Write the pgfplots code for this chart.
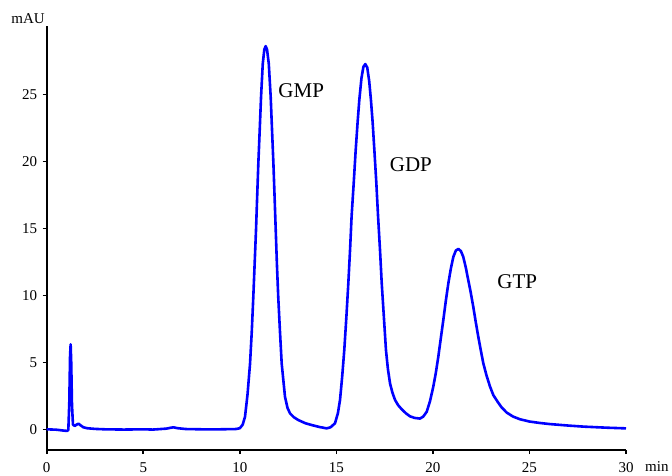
\documentclass[border=0pt]{standalone}
\usepackage{fontspec}
\setmainfont{Liberation Serif}
\usepackage{pgfplots}
\pgfplotsset{compat=1.18}
\definecolor{trace}{RGB}{0,0,255}
\begin{document}
\begin{tikzpicture}[x=1pt,y=1pt]
\path[use as bounding box] (0,0) rectangle (672,475);
\begin{axis}[
  at={(46.7pt,25pt)}, anchor=south west,
  scale only axis, width=579.3pt, height=424pt,
  xmin=0, xmax=30, ymin=-1.545, ymax=30.1,
  axis x line*=bottom, axis y line*=left,
  axis line style={line width=1.6pt, black},
  every tick/.style={line width=1.6pt, black},
  major tick length=4pt, tick align=outside,
  xtick={0,5,...,30}, ytick={0,5,...,25},
  /pgf/number format/assume math mode=true,
  tick label style={font=\fontsize{15}{18}\selectfont},
  xticklabel style={anchor=center, yshift=-14pt},
  yticklabel style={anchor=east, xshift=-2pt},
  clip=false,
]
\addplot[trace, line width=2.6pt, line join=round] coordinates {
(0,0.00) (0.5,-0.03) (0.9,-0.10) (1.05,-0.12) (1.12,-0.05) (1.17,2.0) (1.21,5.5)
(1.24,6.34) (1.27,5.0) (1.31,1.8) (1.36,0.35) (1.45,0.25) (1.55,0.35) (1.65,0.42)
(1.75,0.3) (1.9,0.15) (2.1,0.08) (2.5,0.03) (3.0,0.0) (4.0,-0.02) (5.0,0.0)
(5.5,-0.02) (6.2,0.05) (6.55,0.15) (6.8,0.08) (7.2,0.02) (8.0,0.0) (9.0,0.0)
(9.8,0.02) (10.0,0.08) (10.15,0.35) (10.27,0.94) (10.4,2.6) (10.53,4.9)
(10.62,7.3) (10.70,9.9) (10.77,12.4) (10.84,14.9) (10.90,17.4) (10.96,19.85)
(11.03,22.3) (11.10,24.8) (11.19,27.3) (11.27,28.35) (11.34,28.6) (11.41,28.35)
(11.50,27.3) (11.60,24.8) (11.67,22.3) (11.74,19.85) (11.80,17.4) (11.86,14.9)
(11.92,12.4) (11.99,9.9) (12.08,7.3) (12.17,4.9) (12.34,2.43) (12.47,1.6)
(12.6,1.19) (12.8,0.9) (13.03,0.69) (13.4,0.45) (13.72,0.32) (14.1,0.18)
(14.5,0.07) (14.7,0.15) (14.93,0.45) (15.08,1.2) (15.19,2.19) (15.3,3.9)
(15.41,5.9) (15.52,8.4) (15.62,10.9) (15.71,13.4) (15.79,15.9) (15.90,18.4)
(16.0,20.8) (16.10,22.9) (16.19,24.6) (16.30,26.2) (16.40,27.05) (16.5,27.26)
(16.60,27.0) (16.70,26.0) (16.79,24.6) (16.88,22.9) (16.97,20.8) (17.07,18.4)
(17.16,15.9) (17.26,13.4) (17.35,10.9) (17.46,8.4) (17.57,5.9) (17.67,4.5)
(17.78,3.43) (17.9,2.75) (18.04,2.19) (18.2,1.8) (18.38,1.5) (18.6,1.2)
(18.81,0.97) (19.05,0.85) (19.33,0.80) (19.5,0.95) (19.68,1.31) (19.85,2.1)
(20.02,3.18) (20.15,4.2) (20.28,5.42) (20.41,6.8) (20.54,8.16) (20.67,9.6)
(20.80,10.9) (20.93,12.0) (21.06,12.88) (21.19,13.35) (21.32,13.46) (21.45,13.3)
(21.57,12.88) (21.70,12.1) (21.83,11.14) (21.96,10.2) (22.09,9.15) (22.22,8.0)
(22.35,6.91) (22.48,5.9) (22.61,4.93) (22.78,4.0) (22.96,3.18) (23.13,2.55)
(23.35,2.06) (23.55,1.65) (23.82,1.25) (24.15,0.95) (24.51,0.75) (25.0,0.58)
(25.55,0.47) (26.06,0.39) (27.0,0.28) (27.8,0.2) (29.0,0.12) (30,0.07)
};
\node[font=\fontsize{21}{24}\selectfont] at (axis cs:13.18,25.3) {GMP};
\node[font=\fontsize{21}{24}\selectfont] at (axis cs:18.86,19.76) {GDP};
\node[font=\fontsize{21}{24}\selectfont] at (axis cs:24.37,10.99) {GTP};
\end{axis}
\node[font=\fontsize{15}{18}\selectfont, anchor=east, inner sep=0pt] at (45,456) {mAU};
\node[font=\fontsize{15}{18}\selectfont, anchor=base west, inner sep=0pt] at (645,3.3) {min};
\end{tikzpicture}
\end{document}
